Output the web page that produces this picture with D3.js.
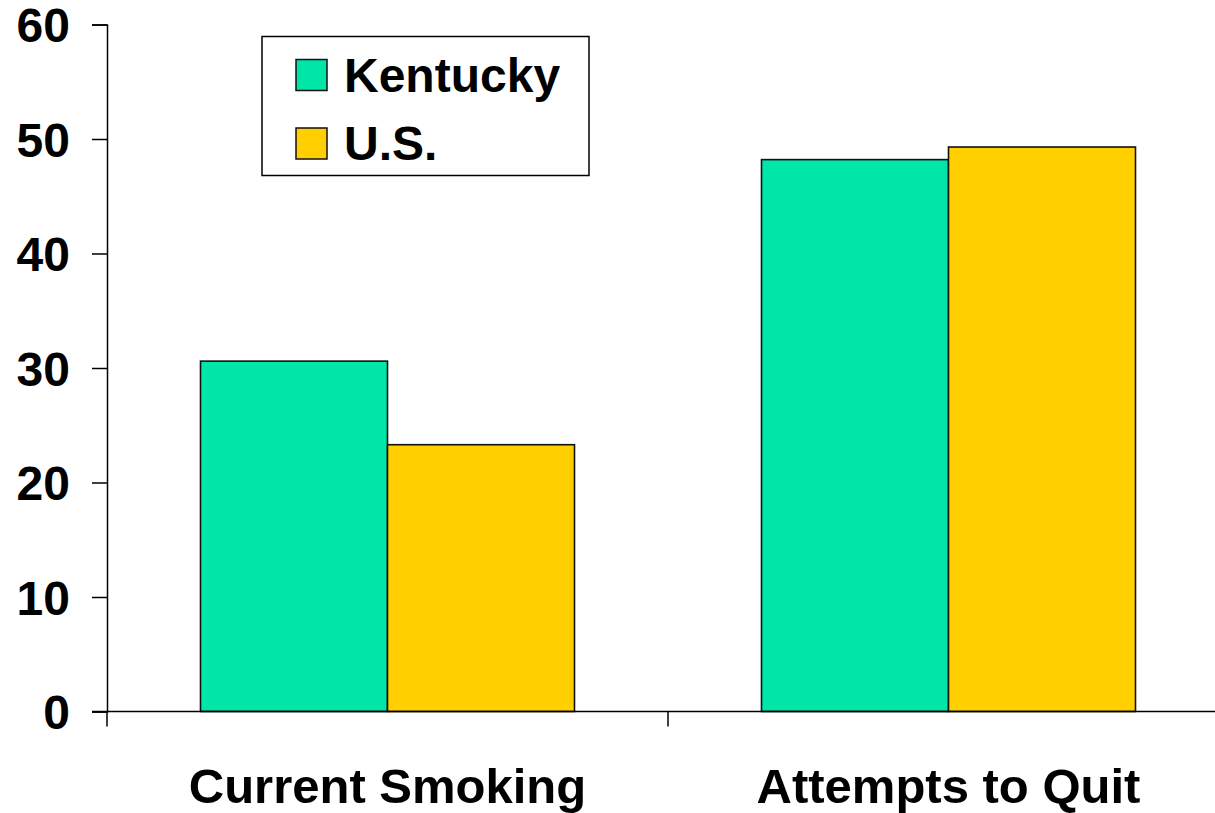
<!DOCTYPE html>
<html>
<head>
<meta charset="utf-8">
<script src="https://cdn.jsdelivr.net/npm/d3@7"></script>
<style>
  html, body { margin: 0; padding: 0; background: #fff; }
  svg { display: block; }
  text { font-family: "Liberation Sans", Arial, sans-serif; font-weight: bold; fill: #000; }
</style>
</head>
<body>
<svg id="chart" width="1215" height="813"></svg>
<script>
const categories = ["Current Smoking", "Attempts to Quit"];
const seriesNames = ["Kentucky", "U.S."];
const kentucky = [30.6, 48.2];
const us = [23.3, 49.3];
const yTicks = [0, 10, 20, 30, 40, 50, 60];
const colors = ["#00E5A8", "#FFCF00"];

const svg = d3.select("#chart");
const x0 = 107, x1 = 1229, yBottom = 711.5, yTop = 24.5;

const x = d3.scaleBand().domain(categories).range([x0, x1]).paddingInner(0).paddingOuter(0);
const bw = x.bandwidth();
const xs = d3.scaleBand().domain(seriesNames).range([bw / 6, bw * 5 / 6]).padding(0);
const y = d3.scaleLinear().domain([0, 60]).range([yBottom, yTop]);

const data = categories.map((c, i) => ({ cat: c, vals: [kentucky[i], us[i]] }));

// bars
const g = svg.append("g");
data.forEach(d => {
  d.vals.forEach((v, j) => {
    g.append("rect")
      .attr("x", x(d.cat) + xs(seriesNames[j]))
      .attr("y", y(v))
      .attr("width", xs.bandwidth())
      .attr("height", y(0) - y(v))
      .attr("fill", colors[j])
      .attr("stroke", "#111")
      .attr("stroke-width", 1.6);
  });
});

// y axis
const yAxis = d3.axisLeft(y).tickValues(yTicks).tickSize(15).tickPadding(22).tickFormat(d3.format("d"));
const ya = svg.append("g").attr("transform", `translate(${x0},0)`).call(yAxis);
ya.select(".domain").attr("stroke", "#000").attr("stroke-width", 1.5);
ya.selectAll(".tick line").attr("stroke", "#000").attr("stroke-width", 1.5);
ya.selectAll(".tick text").style("font-size", "48px").style("font-family", "Liberation Sans, Arial, sans-serif").style("font-weight", "bold").attr("fill", "#000").attr("dy", "0.36em");

// x axis
const xa = svg.append("g").attr("transform", `translate(0,${yBottom})`);
xa.append("line").attr("x1", 92).attr("x2", 1215).attr("y1", 0).attr("y2", 0).attr("stroke", "#000").attr("stroke-width", 1.5);
const boundaries = [x0, x(categories[1])];
xa.selectAll("line.bt").data(boundaries).enter().append("line")
  .attr("class", "bt")
  .attr("x1", d => d).attr("x2", d => d).attr("y1", 0).attr("y2", 15)
  .attr("stroke", "#000").attr("stroke-width", 1.5);

// category labels
svg.selectAll("text.cat").data(categories).enter().append("text")
  .attr("class", "cat")
  .attr("x", d => x(d) + bw / 2)
  .attr("y", 803)
  .attr("text-anchor", "middle")
  .style("font-size", "49px")
  .text(d => d);

// legend
const leg = svg.append("g");
leg.append("rect").attr("x", 262).attr("y", 36.5).attr("width", 327).attr("height", 139)
  .attr("fill", "#fff").attr("stroke", "#000").attr("stroke-width", 1.5);
const legY = [59.5, 128];
seriesNames.forEach((s, j) => {
  leg.append("rect").attr("x", 296).attr("y", legY[j]).attr("width", 31).attr("height", 31)
    .attr("fill", colors[j]).attr("stroke", "#111").attr("stroke-width", 1.5);
  leg.append("text").attr("x", 344).attr("y", legY[j] + 32).style("font-size", "48px").text(s);
});
</script>
</body>
</html>
